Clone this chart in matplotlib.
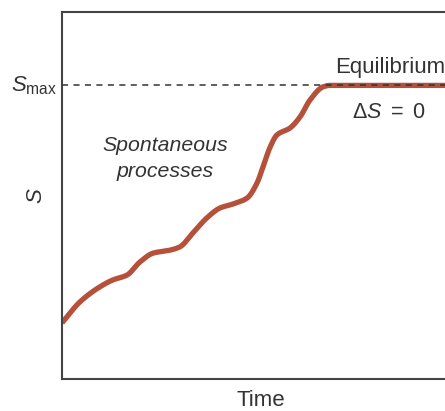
import numpy as np
import matplotlib
matplotlib.use("Agg")
import matplotlib.pyplot as plt

# ── Data ──────────────────────────────────────────────────────
time = [0.00, 0.45, 0.95, 1.28, 1.63, 1.96, 2.29, 2.71, 2.96, 3.29, 3.64,
        3.97, 4.30, 4.65, 4.90, 5.05, 5.23, 5.40, 5.73, 5.98, 6.23, 6.56,
        6.73, 10.0]
entropy = [1.53, 2.10, 2.51, 2.70, 2.83, 3.19, 3.43, 3.51, 3.60, 3.98, 4.39,
           4.66, 4.77, 4.93, 5.34, 5.78, 6.32, 6.65, 6.84, 7.14, 7.60, 7.96,
           8.00, 8.00]
S_MAX = 8.0


def pchip(x, y, n=600):
    """Monotone cubic through the read points, just for a smooth stroke."""
    x, y = np.asarray(x, float), np.asarray(y, float)
    h = np.diff(x)
    d = np.diff(y) / h
    m = np.zeros_like(y)
    for k in range(1, len(x) - 1):
        if d[k - 1] * d[k] > 0:
            w1, w2 = 2 * h[k] + h[k - 1], h[k] + 2 * h[k - 1]
            m[k] = (w1 + w2) / (w1 / d[k - 1] + w2 / d[k])
    m[0], m[-1] = d[0], d[-1]
    xs = np.linspace(x[0], x[-1], n)
    i = np.clip(np.searchsorted(x, xs) - 1, 0, len(h) - 1)
    t = (xs - x[i]) / h[i]
    h00 = 2 * t**3 - 3 * t**2 + 1
    h10 = t**3 - 2 * t**2 + t
    h01 = -2 * t**3 + 3 * t**2
    h11 = t**3 - t**2
    ys = h00 * y[i] + h10 * h[i] * m[i] + h01 * y[i + 1] + h11 * h[i] * m[i + 1]
    return xs, ys


# ── Style ─────────────────────────────────────────────────────
plt.rcParams['font.family'] = ['Liberation Sans', 'DejaVu Sans']
plt.rcParams['mathtext.fontset'] = 'custom'
plt.rcParams['mathtext.rm'] = 'Liberation Sans'
plt.rcParams['mathtext.it'] = 'Liberation Sans:italic'
TXT = '#333333'
LINE = '#b5503a'

fig = plt.figure(figsize=(4.45, 4.11), dpi=100)
ax = fig.add_axes([62 / 445, 32 / 411, (460 - 62) / 445, (379 - 12) / 411])
ax.set_xlim(0, 10)
ax.set_ylim(0, 10)

ax.axhline(S_MAX, color='#333333', lw=1.1, ls=(0, (4, 3.5)), zorder=3)
xs, ys = pchip(time, entropy)
ax.plot(xs, ys, color=LINE, lw=3.8, solid_capstyle='butt', zorder=2)

ax.set_xticks([]); ax.set_yticks([])
for s in ax.spines.values():
    s.set_color('#444444')
    s.set_linewidth(1.5)

ax.set_xlabel('Time', color=TXT, fontsize=16, labelpad=8)
ax.set_ylabel(r'$S$', color=TXT, fontsize=16, labelpad=11)
ax.text(-0.12, S_MAX, r'$S_{\rm max}$', color=TXT, fontsize=16,
        ha='right', va='center')

ax.text(6.85, 8.48, 'Equilibrium', color=TXT, fontsize=16,
        ha='left', va='center')
ax.text(8.2, 7.25, r'$\Delta S\ =\ 0$', color=TXT, fontsize=15.5,
        ha='center', va='center')
ax.text(2.6, 6.0, 'Spontaneous\nprocesses', color=TXT, fontsize=15.3,
        style='italic', ha='center', va='center', linespacing=1.45)

fig.savefig('out.png', dpi=100)
